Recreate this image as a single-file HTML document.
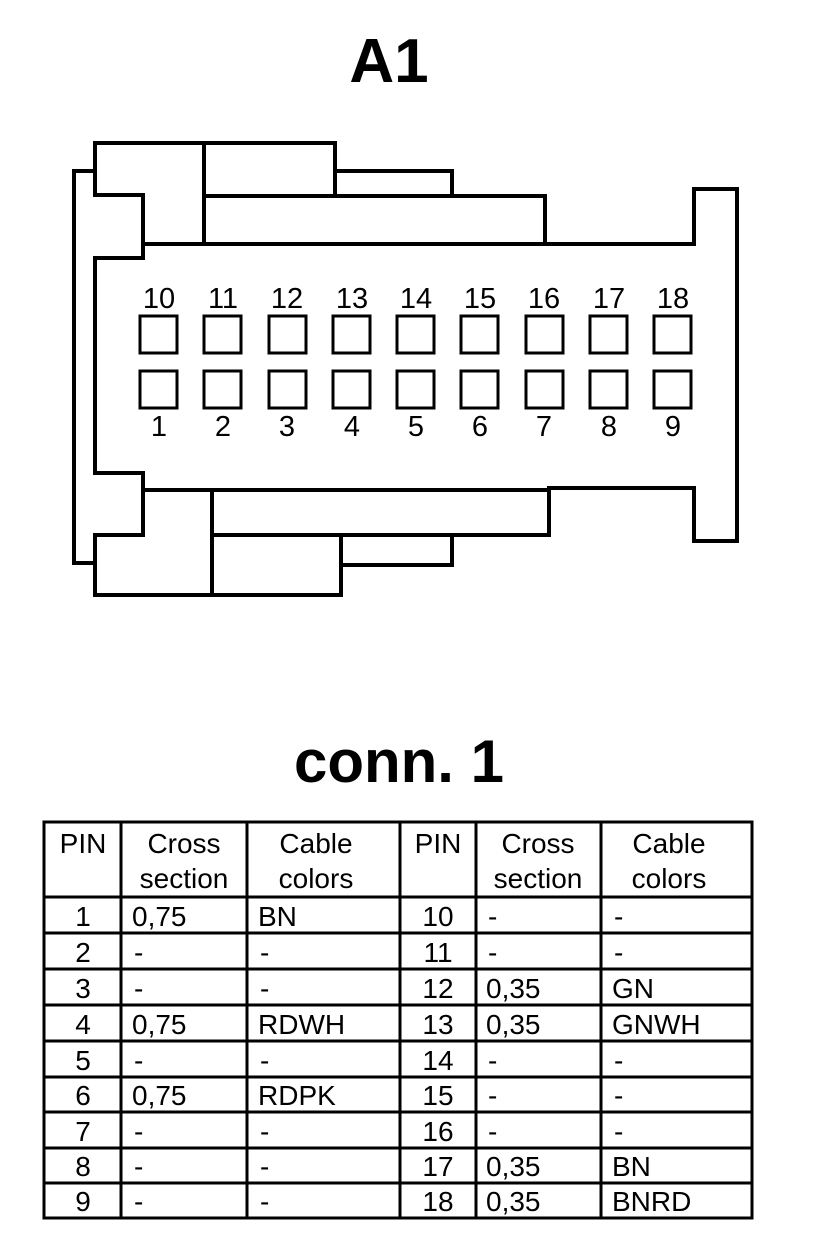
<!DOCTYPE html>
<html><head><meta charset="utf-8"><style>
html,body{margin:0;padding:0;background:#fff;}
svg{display:block;}
text{font-family:"Liberation Sans",Arial,sans-serif;fill:#000;}
</style></head><body>
<svg width="816" height="1256" viewBox="0 0 816 1256" xmlns="http://www.w3.org/2000/svg">
<text x="389" y="82" font-size="62" font-weight="bold" text-anchor="middle">A1</text>
<g fill="none" stroke="#000" stroke-width="4" stroke-linejoin="miter">
<polyline points="95,171 74,171 74,563 95,563"/>
<polygon points="95,143 335,143 335,171 452,171 452,196 545,196 545,244 694,244 694,189 737,189 737,541 694,541 694,488 549,488 549,535 452,535 452,565 341,565 341,595 95,595 95,535 143,535 143,473 95,473 95,258 143,258 143,195 95,195"/>
<line x1="204" y1="143" x2="204" y2="244"/>
<line x1="204" y1="196" x2="452" y2="196"/>
<line x1="143" y1="244" x2="694" y2="244"/>
<line x1="335" y1="171" x2="335" y2="196"/>
<line x1="143" y1="490" x2="549" y2="490"/>
<line x1="212" y1="490" x2="212" y2="595"/>
<line x1="212" y1="535" x2="549" y2="535"/>
<line x1="341" y1="535" x2="341" y2="565"/>
<g stroke-width="3">
<rect x="140" y="316" width="37" height="37"/><rect x="204" y="316" width="37" height="37"/><rect x="269" y="316" width="37" height="37"/><rect x="333" y="316" width="37" height="37"/><rect x="397" y="316" width="37" height="37"/><rect x="461" y="316" width="37" height="37"/><rect x="526" y="316" width="37" height="37"/><rect x="590" y="316" width="37" height="37"/><rect x="654" y="316" width="37" height="37"/>
<rect x="140" y="371" width="37" height="37"/><rect x="204" y="371" width="37" height="37"/><rect x="269" y="371" width="37" height="37"/><rect x="333" y="371" width="37" height="37"/><rect x="397" y="371" width="37" height="37"/><rect x="461" y="371" width="37" height="37"/><rect x="526" y="371" width="37" height="37"/><rect x="590" y="371" width="37" height="37"/><rect x="654" y="371" width="37" height="37"/>
</g>
</g>
<g font-size="29" text-anchor="middle">
<text x="159" y="308">10</text><text x="223" y="308">11</text><text x="287" y="308">12</text><text x="352" y="308">13</text><text x="416" y="308">14</text><text x="480" y="308">15</text><text x="544" y="308">16</text><text x="609" y="308">17</text><text x="673" y="308">18</text>
<text x="159" y="436">1</text><text x="223" y="436">2</text><text x="287" y="436">3</text><text x="352" y="436">4</text><text x="416" y="436">5</text><text x="480" y="436">6</text><text x="544" y="436">7</text><text x="609" y="436">8</text><text x="673" y="436">9</text>
</g>
<text x="399" y="782" font-size="60" font-weight="bold" text-anchor="middle">conn. 1</text>
<g fill="none" stroke="#000" stroke-width="3">
<rect x="44" y="822" width="708" height="396"/>
<line x1="121" y1="822" x2="121" y2="1218"/><line x1="247" y1="822" x2="247" y2="1218"/><line x1="400" y1="822" x2="400" y2="1218"/><line x1="476" y1="822" x2="476" y2="1218"/><line x1="601" y1="822" x2="601" y2="1218"/>
<line x1="44" y1="897" x2="752" y2="897"/><line x1="44" y1="933" x2="752" y2="933"/><line x1="44" y1="969" x2="752" y2="969"/><line x1="44" y1="1005" x2="752" y2="1005"/><line x1="44" y1="1041" x2="752" y2="1041"/><line x1="44" y1="1077" x2="752" y2="1077"/><line x1="44" y1="1112" x2="752" y2="1112"/><line x1="44" y1="1148" x2="752" y2="1148"/><line x1="44" y1="1183" x2="752" y2="1183"/>
</g>
<g font-size="28" text-anchor="middle">
<text x="83" y="853">PIN</text><text x="184" y="853">Cross</text><text x="184" y="888">section</text><text x="316" y="853">Cable</text><text x="316" y="888">colors</text>
<text x="438" y="853">PIN</text><text x="538" y="853">Cross</text><text x="538" y="888">section</text><text x="669" y="853">Cable</text><text x="669" y="888">colors</text>
<text x="83" y="926">1</text><text x="83" y="962">2</text><text x="83" y="998">3</text><text x="83" y="1034">4</text><text x="83" y="1070">5</text><text x="83" y="1105">6</text><text x="83" y="1141">7</text><text x="83" y="1176">8</text><text x="83" y="1211">9</text>
<text x="438" y="926">10</text><text x="438" y="962">11</text><text x="438" y="998">12</text><text x="438" y="1034">13</text><text x="438" y="1070">14</text><text x="438" y="1105">15</text><text x="438" y="1141">16</text><text x="438" y="1176">17</text><text x="438" y="1211">18</text>
</g>
<g font-size="28">
<text x="132" y="926">0,75</text><text x="134" y="962">-</text><text x="134" y="998">-</text><text x="132" y="1034">0,75</text><text x="134" y="1070">-</text><text x="132" y="1105">0,75</text><text x="134" y="1141">-</text><text x="134" y="1176">-</text><text x="134" y="1211">-</text>
<text x="258" y="926">BN</text><text x="260" y="962">-</text><text x="260" y="998">-</text><text x="258" y="1034">RDWH</text><text x="260" y="1070">-</text><text x="258" y="1105">RDPK</text><text x="260" y="1141">-</text><text x="260" y="1176">-</text><text x="260" y="1211">-</text>
<text x="488" y="926">-</text><text x="488" y="962">-</text><text x="486" y="998">0,35</text><text x="486" y="1034">0,35</text><text x="488" y="1070">-</text><text x="488" y="1105">-</text><text x="488" y="1141">-</text><text x="486" y="1176">0,35</text><text x="486" y="1211">0,35</text>
<text x="614" y="926">-</text><text x="614" y="962">-</text><text x="612" y="998">GN</text><text x="612" y="1034">GNWH</text><text x="614" y="1070">-</text><text x="614" y="1105">-</text><text x="614" y="1141">-</text><text x="612" y="1176">BN</text><text x="612" y="1211">BNRD</text>
</g>
</svg>
</body></html>
